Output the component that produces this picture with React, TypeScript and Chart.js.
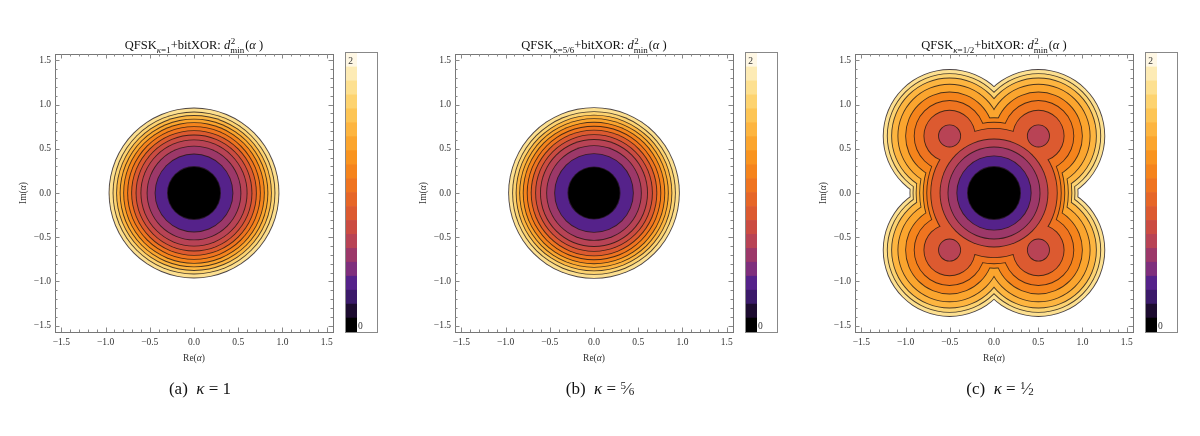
import React, { useEffect, useRef } from "react";
import { Chart, registerables } from "chart.js";

Chart.register(...registerables);

// ---------- data ----------
const AXIS_LIMIT = 1.5708;
const MAJOR_TICKS = [-1.5, -1.0, -0.5, 0.0, 0.5, 1.0, 1.5];
const MAJOR_TICK_LABELS = ["−1.5", "−1.0", "−0.5", "0.0", "0.5", "1.0", "1.5"];
const MINOR_TICKS = [
  -1.4, -1.3, -1.2, -1.1, -0.9, -0.8, -0.7, -0.6, -0.4, -0.3, -0.2, -0.1,
  0.1, 0.2, 0.3, 0.4, 0.6, 0.7, 0.8, 0.9, 1.1, 1.2, 1.3, 1.4,
];

const COLORBAR_BANDS = [
  0.0, 0.1, 0.2, 0.3, 0.4, 0.5, 0.6, 0.7, 0.8, 0.9,
  1.0, 1.1, 1.2, 1.3, 1.4, 1.5, 1.6, 1.7, 1.8, 1.9,
];
const COLORBAR_STEP = 0.1;
const COLORBAR_MIN = 0;
const COLORBAR_MAX = 2;
const COLORBAR_TICKS = [0, 2];
const COLORBAR_TICK_LABELS = ["0", "2"];

const PANEL_LETTERS = ["a", "b", "c"];
const KAPPA_NUM = ["1", "5", "1"];
const KAPPA_DEN = ["", "6", "2"];

// panel (a): circular contour rings, outer radius and d^2 level
const RING_RADII_A = [0.96, 0.915, 0.875, 0.835, 0.795, 0.75, 0.705, 0.655, 0.6, 0.53, 0.44, 0.3];
const RING_LEVELS_A = [1.75, 1.65, 1.45, 1.35, 1.15, 1.05, 0.85, 0.75, 0.65, 0.55, 0.35, 0.05];

// panel (b)
const RING_RADII_B = [0.965, 0.92, 0.88, 0.84, 0.8, 0.755, 0.71, 0.66, 0.605, 0.535, 0.445, 0.295];
const RING_LEVELS_B = [1.75, 1.65, 1.45, 1.35, 1.15, 1.05, 0.85, 0.75, 0.65, 0.55, 0.35, 0.05];

// panel (c): four lobes + core
const LOBE_CENTER_X_C = [0.502, -0.502, 0.502, -0.502];
const LOBE_CENTER_Y_C = [0.645, 0.645, -0.645, -0.645];
const LOBE_RADII_C = [0.75, 0.704, 0.655, 0.584, 0.497, 0.4, 0.29];
const CORE_RX_C = [0.95, 0.915, 0.88, 0.84, 0.8, 0.76, 0.715];
const CORE_RY_C = [0.95, 0.92, 0.9, 0.88, 0.85, 0.8, 0.73];
const LOBE_LEVELS_C = [1.75, 1.65, 1.45, 1.35, 1.15, 1.05, 0.85];
const CENTER_RADII_C = [0.61, 0.52, 0.42, 0.3];
const CENTER_LEVELS_C = [0.65, 0.55, 0.35, 0.05];
const MINIMA_RADIUS_C = 0.125;
const MINIMA_LEVEL_C = 0.65;

// ---------- styles ----------
const PALETTE = [
  "#000000", "#1d0c30", "#3b1a6a", "#55228a", "#7f2f7d",
  "#9c3869", "#b84355", "#cb4c42", "#dc5a30", "#e66627",
  "#ef7420", "#f5841c", "#f9941f", "#fba52e", "#fdb540",
  "#fdc555", "#fdd370", "#fde090", "#fdebb5", "#fef7e4",
];
const SERIF = '"Liberation Serif", "Times New Roman", serif';
const LINE_COLOR = "rgba(30,20,20,0.8)";
const FRAME_COLOR = "#777";

function colorFor(level: number): string {
  const idx = Math.max(0, Math.min(PALETTE.length - 1, Math.floor(level / COLORBAR_STEP + 1e-6)));
  return PALETTE[idx];
}

type Ell = { cx: number; cy: number; rx: number; ry: number };
type Layer = { level: number; shapes: Ell[] };

function ringLayers(radii: number[], levels: number[]): Layer[] {
  return radii.map((r, i) => ({ level: levels[i], shapes: [{ cx: 0, cy: 0, rx: r, ry: r }] }));
}

function lobeLayers(): Layer[] {
  const layers: Layer[] = [];
  LOBE_RADII_C.forEach((r, i) => {
    const shapes: Ell[] = [{ cx: 0, cy: 0, rx: CORE_RX_C[i], ry: CORE_RY_C[i] }];
    LOBE_CENTER_X_C.forEach((x, j) => shapes.push({ cx: x, cy: LOBE_CENTER_Y_C[j], rx: r, ry: r }));
    layers.push({ level: LOBE_LEVELS_C[i], shapes });
  });
  CENTER_RADII_C.forEach((r, i) =>
    layers.push({ level: CENTER_LEVELS_C[i], shapes: [{ cx: 0, cy: 0, rx: r, ry: r }] })
  );
  layers.push({
    level: MINIMA_LEVEL_C,
    shapes: LOBE_CENTER_X_C.map((x, j) => ({ cx: x, cy: LOBE_CENTER_Y_C[j], rx: MINIMA_RADIUS_C, ry: MINIMA_RADIUS_C })),
  });
  return layers;
}

type Part = { t: string; f: string; dy: number };

function drawParts(ctx: CanvasRenderingContext2D, parts: Part[], cx: number, y: number) {
  let total = 0;
  for (const p of parts) {
    ctx.font = p.f;
    total += ctx.measureText(p.t).width;
  }
  let x = cx - total / 2;
  ctx.textAlign = "left";
  for (const p of parts) {
    ctx.font = p.f;
    ctx.fillText(p.t, x, y + p.dy);
    x += ctx.measureText(p.t).width;
  }
}

function drawTitle(ctx: CanvasRenderingContext2D, cx: number, baseline: number, idx: number) {
  const big = `12.5px ${SERIF}`;
  const bigI = `italic 12.5px ${SERIF}`;
  const small = `9px ${SERIF}`;
  const smallI = `italic 9px ${SERIF}`;
  const kap = KAPPA_DEN[idx] ? `=${KAPPA_NUM[idx]}/${KAPPA_DEN[idx]}` : `=${KAPPA_NUM[idx]}`;
  const seq: { t: string; f: string; dy: number; stackSup?: string }[] = [
    { t: "QFSK", f: big, dy: 0 },
    { t: "κ", f: smallI, dy: 3.5 },
    { t: kap, f: small, dy: 3.5 },
    { t: "+bitXOR: ", f: big, dy: 0 },
    { t: "d", f: bigI, dy: 0 },
    { t: "min", f: small, dy: 3.5, stackSup: "2" },
    { t: "(", f: big, dy: 0 },
    { t: "α", f: bigI, dy: 0 },
    { t: " )", f: big, dy: 0 },
  ];
  let total = 0;
  for (const p of seq) {
    ctx.font = p.f;
    total += ctx.measureText(p.t).width + (p.stackSup ? 1 : 0);
  }
  let x = cx - total / 2;
  ctx.textAlign = "left";
  ctx.textBaseline = "alphabetic";
  for (const p of seq) {
    ctx.font = p.f;
    ctx.fillText(p.t, x, baseline + p.dy);
    if (p.stackSup) ctx.fillText(p.stackSup, x + 0.5, baseline - 5.5);
    x += ctx.measureText(p.t).width + (p.stackSup ? 1 : 0);
  }
}

function Panel({ index }: { index: number }) {
  const mainRef = useRef<HTMLCanvasElement>(null);
  const barRef = useRef<HTMLCanvasElement>(null);

  useEffect(() => {
    const layers =
      index === 2
        ? lobeLayers()
        : index === 0
        ? ringLayers(RING_RADII_A, RING_LEVELS_A)
        : ringLayers(RING_RADII_B, RING_LEVELS_B);

    const contourPlugin = {
      id: "contours",
      beforeDatasetsDraw(chart: any) {
        const ctx: CanvasRenderingContext2D = chart.ctx;
        const xs = chart.scales.x;
        const ys = chart.scales.y;
        const lw = 0.9;
        const path = (shapes: Ell[], grow: number) => {
          ctx.beginPath();
          for (const e of shapes) {
            const cxp = xs.getPixelForValue(e.cx);
            const cyp = ys.getPixelForValue(e.cy);
            const rxp = Math.abs(xs.getPixelForValue(e.cx + e.rx) - cxp) + grow;
            const ryp = Math.abs(ys.getPixelForValue(e.cy + e.ry) - cyp) + grow;
            ctx.moveTo(cxp + rxp, cyp);
            ctx.ellipse(cxp, cyp, rxp, ryp, 0, 0, Math.PI * 2);
          }
        };
        ctx.save();
        for (const layer of layers) {
          path(layer.shapes, lw / 2);
          ctx.fillStyle = LINE_COLOR;
          ctx.fill("nonzero");
          path(layer.shapes, -lw / 2);
          ctx.fillStyle = colorFor(layer.level);
          ctx.fill("nonzero");
        }
        ctx.restore();
      },
      afterDraw(chart: any) {
        const ctx: CanvasRenderingContext2D = chart.ctx;
        const xs = chart.scales.x;
        const ys = chart.scales.y;
        const { left, right, top, bottom } = chart.chartArea;
        ctx.save();
        // frame
        ctx.strokeStyle = FRAME_COLOR;
        ctx.lineWidth = 1;
        ctx.strokeRect(Math.round(left) + 0.5, Math.round(top) + 0.5, Math.round(right - left), Math.round(bottom - top));
        // ticks
        const drawTicks = (vals: number[], len: number) => {
          ctx.beginPath();
          for (const v of vals) {
            const x = Math.round(xs.getPixelForValue(v)) + 0.5;
            ctx.moveTo(x, bottom);
            ctx.lineTo(x, bottom - len);
            ctx.moveTo(x, top);
            ctx.lineTo(x, top + len);
            const y = Math.round(ys.getPixelForValue(v)) + 0.5;
            ctx.moveTo(left, y);
            ctx.lineTo(left + len, y);
            ctx.moveTo(right, y);
            ctx.lineTo(right - len, y);
          }
          ctx.stroke();
        };
        ctx.strokeStyle = "#888";
        drawTicks(MAJOR_TICKS, 4.5);
        drawTicks(MINOR_TICKS, 2.5);
        // tick labels
        ctx.fillStyle = "#333";
        ctx.font = `9.5px ${SERIF}`;
        ctx.textBaseline = "middle";
        ctx.textAlign = "center";
        MAJOR_TICKS.forEach((v, i) => ctx.fillText(MAJOR_TICK_LABELS[i], xs.getPixelForValue(v), bottom + 10));
        ctx.textAlign = "right";
        MAJOR_TICKS.forEach((v, i) => ctx.fillText(MAJOR_TICK_LABELS[i], left - 4, ys.getPixelForValue(v)));
        // axis titles
        ctx.textBaseline = "middle";
        const axFont = `9.5px ${SERIF}`;
        const axFontI = `italic 9.5px ${SERIF}`;
        drawParts(
          ctx,
          [
            { t: "Re(", f: axFont, dy: 0 },
            { t: "α", f: axFontI, dy: 0 },
            { t: ")", f: axFont, dy: 0 },
          ],
          (left + right) / 2,
          bottom + 26
        );
        ctx.save();
        ctx.translate(23, (top + bottom) / 2);
        ctx.rotate(-Math.PI / 2);
        drawParts(
          ctx,
          [
            { t: "Im(", f: axFont, dy: 0 },
            { t: "α", f: axFontI, dy: 0 },
            { t: ")", f: axFont, dy: 0 },
          ],
          0,
          0
        );
        ctx.restore();
        // title
        ctx.fillStyle = "#111";
        drawTitle(ctx, (left + right) / 2, top - 5, index);
        ctx.restore();
      },
    };

    const main = new Chart(mainRef.current as HTMLCanvasElement, {
      type: "scatter",
      data: { datasets: [] },
      options: {
        responsive: false,
        animation: false,
        devicePixelRatio: 1,
        layout: { padding: { left: 55, top: 54, right: 67, bottom: 104 } },
        plugins: { legend: { display: false }, tooltip: { enabled: false }, title: { display: false } },
        scales: {
          x: { type: "linear", min: -AXIS_LIMIT, max: AXIS_LIMIT, display: false },
          y: { type: "linear", min: -AXIS_LIMIT, max: AXIS_LIMIT, display: false },
        },
      },
      plugins: [contourPlugin],
    } as any);

    const barPlugin = {
      id: "cbframe",
      afterDraw(chart: any) {
        const ctx: CanvasRenderingContext2D = chart.ctx;
        const ys = chart.scales.y;
        const { left, right } = chart.chartArea;
        ctx.save();
        ctx.strokeStyle = "#888";
        ctx.lineWidth = 1;
        ctx.strokeRect(0.5, 0.5, chart.width - 1, chart.height - 1);
        ctx.fillStyle = "#333";
        ctx.font = `9.5px ${SERIF}`;
        ctx.textBaseline = "middle";
        COLORBAR_TICKS.forEach((v, i) => {
          const y = ys.getPixelForValue(v);
          if (v === COLORBAR_MAX) {
            ctx.textAlign = "center";
            ctx.fillText(COLORBAR_TICK_LABELS[i], (left + right) / 2 - 1, y + 8);
          } else {
            ctx.textAlign = "left";
            ctx.fillText(COLORBAR_TICK_LABELS[i], right + 1, y - 6);
          }
        });
        ctx.restore();
      },
    };

    const bar = new Chart(barRef.current as HTMLCanvasElement, {
      type: "bar",
      data: {
        labels: [""],
        datasets: COLORBAR_BANDS.map((b, i) => ({
          label: String(b),
          data: [COLORBAR_STEP],
          backgroundColor: PALETTE[i],
          borderWidth: 0,
          barPercentage: 1,
          categoryPercentage: 1,
          stack: "cb",
        })),
      },
      options: {
        responsive: false,
        animation: false,
        devicePixelRatio: 1,
        layout: { padding: { left: 1, top: 1, right: 21, bottom: 1 } },
        plugins: { legend: { display: false }, tooltip: { enabled: false } },
        scales: {
          x: { stacked: true, display: false },
          y: { stacked: true, min: COLORBAR_MIN, max: COLORBAR_MAX, display: false },
        },
      },
      plugins: [barPlugin],
    } as any);

    return () => {
      main.destroy();
      bar.destroy();
    };
  }, [index]);

  const frac = KAPPA_DEN[index] ? (
    <span>
      <span style={{ fontSize: "11px", position: "relative", top: "-5px" }}>{KAPPA_NUM[index]}</span>
      <span>⁄</span>
      <span style={{ fontSize: "11px", position: "relative", top: "1px" }}>{KAPPA_DEN[index]}</span>
    </span>
  ) : (
    <span>{KAPPA_NUM[index]}</span>
  );

  return (
    <div style={{ position: "absolute", left: index * 400, top: 0, width: 400, height: 436 }}>
      <canvas
        ref={mainRef}
        width={400}
        height={436}
        style={{ position: "absolute", left: 0, top: 0, width: 400, height: 436 }}
      />
      <canvas
        ref={barRef}
        width={33}
        height={281}
        style={{ position: "absolute", left: 345, top: 52, width: 33, height: 281 }}
      />
      <div
        style={{
          position: "absolute",
          left: 0,
          top: 380,
          width: 400,
          height: 20,
          textAlign: "center",
          fontFamily: SERIF,
          fontSize: "17px",
          lineHeight: "17px",
          color: "#111",
          whiteSpace: "pre",
        }}
      >
        {`(${PANEL_LETTERS[index]})  `}
        <i>κ</i>
        {" = "}
        {frac}
      </div>
    </div>
  );
}

export default function App() {
  return (
    <div style={{ position: "absolute", left: 0, top: 0, width: 1200, height: 436, background: "#fff" }}>
      {[0, 1, 2].map((i) => (
        <Panel key={i} index={i} />
      ))}
    </div>
  );
}
